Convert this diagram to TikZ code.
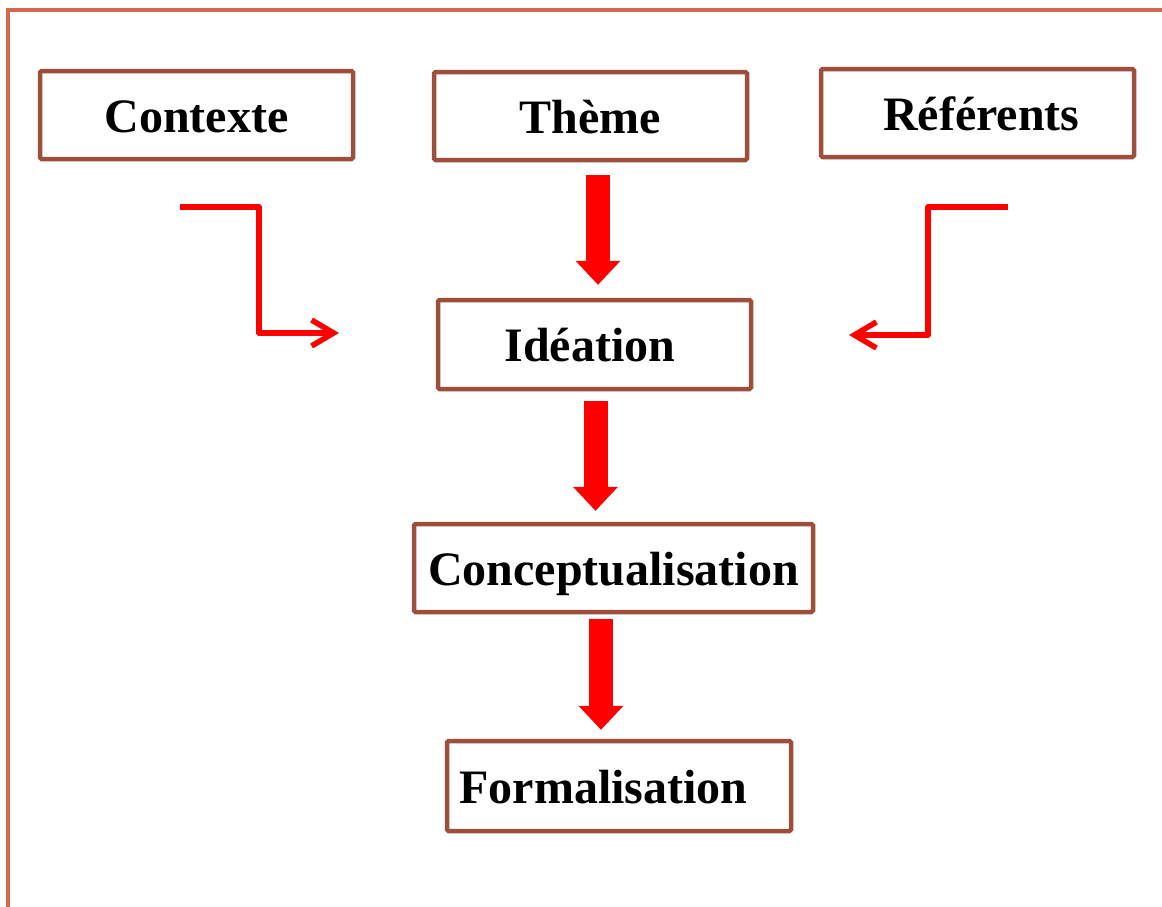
\documentclass[tikz,border=0pt]{standalone}
\usepackage{fontspec}
\setmainfont{Liberation Serif}
\usetikzlibrary{arrows.meta}
\definecolor{boxbrown}{HTML}{9E4F3B}
\definecolor{framecoral}{HTML}{D4694F}
\definecolor{arrred}{HTML}{FF0000}
\tikzset{
  stagebox/.style={draw=boxbrown, line width=4.5pt, rounded corners=1.5pt, fill=white,
    inner sep=0pt, text height=34pt, text depth=0pt,
    font=\fontsize{48}{56}\selectfont\bfseries, minimum height=88pt},
  blockarrow/.style={draw=arrred, fill=arrred, line width=24pt,
    -{Triangle[width=45pt,length=24pt,line width=0pt]}},
  elbowarrow/.style={draw=arrred, line width=5.5pt, line join=round,
    -{Straight Barb[length=22pt,width=26pt]}},
  outerframe/.style={draw=framecoral, line width=3.5pt}
}
\begin{document}
\begin{tikzpicture}[x=1pt,y=-1pt]
\useasboundingbox[fill=white] (0,0) rectangle (1162,906);
% open outer frame
\coordinate (fb) at (8,915);
\coordinate (ft) at (8,10);
\coordinate (fr) at (1172,10);
\draw[outerframe] (fb) -- (ft) -- (fr);

% boxes
\node[stagebox, minimum width=313pt] (contexte) at (196.5,115) {Contexte};
\node[stagebox, minimum width=313pt] (theme) at (590.5,116) {Thème};
\node[stagebox, minimum width=313pt] (referents) at (977.5,113) {\makebox[204pt][r]{Référents}};
\node[stagebox, minimum width=313pt, minimum height=89pt] (ideation) at (594.5,344.5) {\makebox[180pt][l]{Idéation}};
\node[stagebox, minimum width=399pt] (concept) at (613.5,568) {Conceptualisation};
\node[stagebox, minimum width=344pt, minimum height=90pt] (formal) at (619,786) {\makebox[319pt][l]{Formalisation}};

% block arrows
\draw[blockarrow, shorten <=13pt, shorten >=13pt]
  ([xshift=7.5pt]theme.south) -- ([xshift=3.5pt]ideation.north);
\draw[blockarrow, shorten <=10pt, shorten >=11pt]
  ([xshift=1pt]ideation.south) -- ([xshift=-18pt]concept.north);
\draw[blockarrow, shorten <=5pt, shorten >=9pt]
  ([xshift=-12.5pt]concept.south) -- ([xshift=-18pt]formal.north);

% elbow arrows
\coordinate (ls) at (180,207);
\coordinate (lk) at (259,270);
\coordinate (le) at (339,333);
\draw[elbowarrow] (ls) -| (lk) |- (le);
\coordinate (rs) at (1008,207);
\coordinate (rk) at (928,270);
\coordinate (re) at (849,335);
\draw[elbowarrow] (rs) -| (rk) |- (re);
\end{tikzpicture}
\end{document}
